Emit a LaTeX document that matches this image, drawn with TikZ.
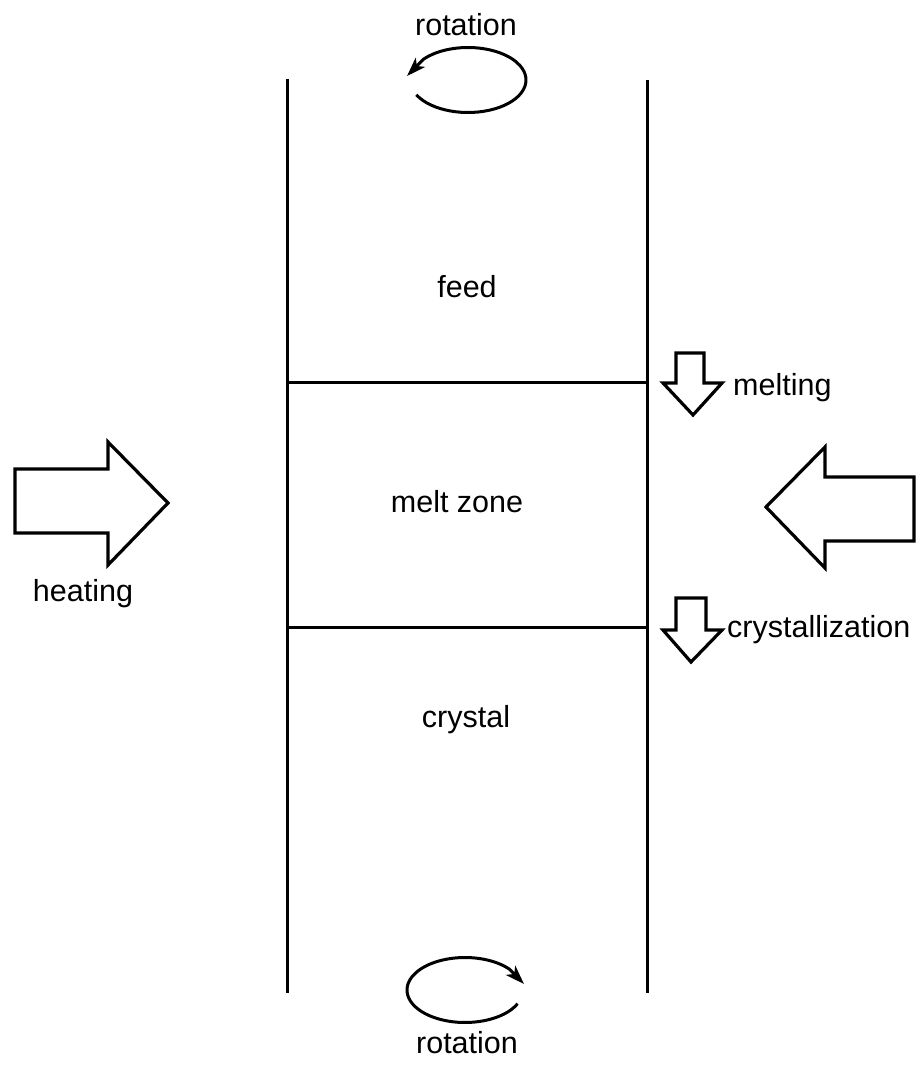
\documentclass[tikz,border=0pt]{standalone}
\usepackage{fontspec}
\setmainfont{Liberation Sans}
\usetikzlibrary{arrows.meta}
\begin{document}
\begin{tikzpicture}[x=1pt,y=-1pt,
  wall/.style={line width=3pt},
  fatarrow/.style={line width=3.2pt, line join=miter, fill=white},
  spin/.style={line width=3pt, line join=round, -{Stealth[length=19pt,width=13pt,inset=5pt]}},
  lbl/.style={font=\fontsize{30.5}{36}\selectfont, inner sep=0pt}]
\useasboundingbox (0,0) rectangle (921,1066);
% walls
\coordinate (LT) at (287,79);
\coordinate (LB) at (287,993);
\coordinate (RT) at (647,80);
\coordinate (RB) at (647,993);
\draw[wall] (LT) -- (LB);
\draw[wall] (RT) -- (RB);
% zone boundaries
\coordinate (B1L) at (287,382);
\coordinate (B1R) at (647,382);
\coordinate (B2L) at (287,627);
\coordinate (B2R) at (647,627);
\draw[wall] (B1L) -- (B1R);
\draw[wall] (B2L) -- (B2R);
% labels
\node[lbl, anchor=base] (feed) at (467,297) {feed};
\node[lbl, anchor=base] (melt) at (457,512) {melt zone};
\node[lbl, anchor=base] (crys) at (466,727) {crystal};
\node[lbl, anchor=base] (rtop) at (466,35) {rotation};
\node[lbl, anchor=base] (rbot) at (467,1053) {rotation};
\node[lbl, anchor=base west] (melting) at (733,395) {melting};
\node[lbl, anchor=base west] (crystallization) at (727,637) {crystallization};
\node[lbl, anchor=base] (heating) at (83,601) {heating};
% rotation arrows
\coordinate (topc) at (468,80);
\coordinate (botc) at (465,990);
\coordinate (toptip) at (407,76);
\coordinate (bottip) at (524,984);
\draw[spin] (topc) ++(-207:58 and 32.5) arc[start angle=-207, end angle=-500, x radius=58, y radius=32.5] -- (toptip);
\draw[spin] (botc) ++(25:58 and 32.5) arc[start angle=25, end angle=320, x radius=58, y radius=32.5] -- (bottip);
% heating arrows
\draw[fatarrow] (15,469) -- (108,469) -- (108,442) -- (168,503) -- (108,565) -- (108,533) -- (15,533) -- cycle;
\draw[fatarrow] (914,477) -- (825,477) -- (825,447) -- (766,507) -- (825,568) -- (825,541) -- (914,541) -- cycle;
% small arrows
\draw[fatarrow] (676,353) -- (704,353) -- (704,383) -- (722,383) -- (693,415) -- (663,383) -- (676,383) -- cycle;
\draw[fatarrow] (676,598) -- (706,598) -- (706,630) -- (722,630) -- (691,662) -- (663,630) -- (676,630) -- cycle;
\end{tikzpicture}
\end{document}
